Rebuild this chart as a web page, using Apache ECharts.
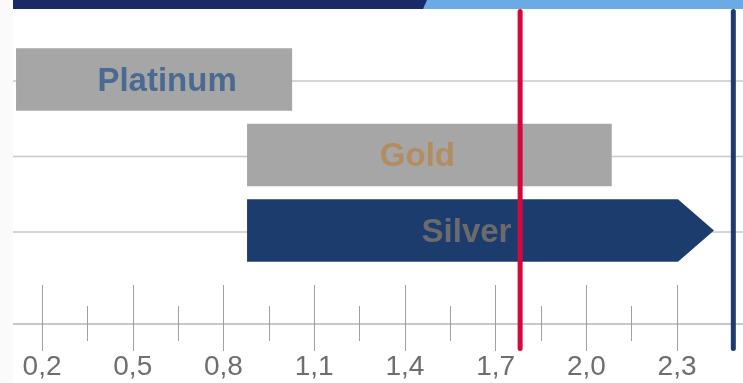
<!DOCTYPE html>
<html>
<head>
<meta charset="utf-8">
<script src="https://cdn.jsdelivr.net/npm/echarts@6/dist/echarts.min.js"></script>
<style>
html,body{margin:0;padding:0;background:#fff;}
#chart{width:743px;height:383px;}
</style>
</head>
<body>
<div id="chart"></div>
<script>
// ---- data ----
var categories = ['Platinum', 'Gold', 'Silver'];
var barStarts = [0.114, 0.878, 0.878];
var barEnds = [1.027, 2.084, 2.422];
var markerValues = [1.781, 2.486];
var tickLabels = [0.2, 0.5, 0.8, 1.1, 1.4, 1.7, 2.0, 2.3];
var minorTicks = [0.35, 0.65, 0.95, 1.25, 1.55, 1.85, 2.15];

// ---- styles ----
var XMIN = 0.104, XMAX = 2.518;
var YMIN = -0.934, YMAX = 3.596;
var BAR_FRAC = 0.828;
var GRID_OFFSET = 0.02;
var arrowLen = [0, 0, 36];
var barColors = ['#a6a6a6', '#a6a6a6', '#1d3c6e'];
var labelColors = ['#4a6a91', '#b38d62', '#6b6b6b'];
var labelDx = [13, -12, 4];
var markerColors = ['#d6083b', '#1d3c6e'];

var chart = echarts.init(document.getElementById('chart'), null, {renderer: 'canvas'});

var barData = categories.map(function (c, i) { return [barStarts[i], barEnds[i], i]; });
var gridData = categories.map(function (c, i) { return [XMIN, i]; });
var markerData = markerValues.map(function (v, i) { return [v, 0, i]; });

function renderBar(params, api) {
  var s = api.value(0), e = api.value(1), i = api.value(2);
  var p0 = api.coord([s, i]);
  var p1 = api.coord([e, i]);
  var h = api.size([0, 1])[1] * BAR_FRAC;
  var top = p0[1] - h / 2, bot = p0[1] + h / 2;
  var ah = arrowLen[i];
  var shape;
  if (ah > 0) {
    shape = {type: 'polygon', shape: {points: [[p0[0], top], [p1[0] - ah, top], [p1[0], p0[1]], [p1[0] - ah, bot], [p0[0], bot]]},
      style: {fill: barColors[i]}};
  } else {
    shape = {type: 'rect', shape: {x: p0[0], y: top, width: p1[0] - p0[0], height: h}, style: {fill: barColors[i]}};
  }
  var cx = (p0[0] + p1[0] - ah) / 2 + labelDx[i];
  return {type: 'group', children: [shape, {
    type: 'text', style: {text: categories[i], x: cx, y: p0[1] + 2, align: 'center', verticalAlign: 'middle',
      fill: labelColors[i], font: 'bold 33px "Liberation Sans", Arial, sans-serif'}
  }]};
}

function renderGridLine(params, api) {
  var y = api.coord([api.value(0), api.value(1) + GRID_OFFSET])[1];
  var cs = params.coordSys;
  return {type: 'line', shape: {x1: cs.x, y1: y, x2: cs.x + cs.width, y2: y},
    style: {stroke: '#c8c8c8', lineWidth: 1.5}};
}

function renderMarker(params, api) {
  var x = api.coord([api.value(0), 0])[0];
  var cs = params.coordSys;
  var idx = api.value(2);
  return {type: 'line', shape: {x1: x, y1: cs.y + 2.5, x2: x, y2: cs.y + cs.height - 2.5},
    style: {stroke: markerColors[idx], lineWidth: 5, lineCap: 'round'}};
}

function fmt(v) { return v.toFixed(1).replace('.', ','); }

var labelFont = {fontFamily: '"Liberation Sans Narrow", "Liberation Sans", sans-serif', fontSize: 28, color: '#6e6e6e'};

var option = {
  animation: false,
  backgroundColor: '#fff',
  graphic: [
    {type: 'rect', shape: {x: 0, y: 0, width: 13, height: 383}, style: {fill: '#fafafa'}, z: 100},
    {type: 'rect', shape: {x: 13, y: 0, width: 730, height: 9}, style: {fill: '#6aabe5'}, z: 100},
    {type: 'polygon', shape: {points: [[13, 0], [427, 0], [423, 9], [13, 9]]}, style: {fill: '#1a2a68'}, z: 101}
  ],
  grid: [
    {left: 13, right: 0, top: 9, bottom: 32},
    {left: 13, right: 0, top: 9, bottom: 59}
  ],
  xAxis: [
    {gridIndex: 0, type: 'value', min: XMIN, max: XMAX, show: false},
    {gridIndex: 1, type: 'value', min: XMIN, max: XMAX, position: 'bottom',
      axisLine: {show: true, lineStyle: {color: '#c8c8c8', width: 2}},
      axisTick: {show: true, inside: false, length: 27, customValues: tickLabels, lineStyle: {color: '#a0a0a0', width: 1}},
      axisLabel: Object.assign({show: true, customValues: tickLabels, margin: 43, verticalAlign: 'middle', formatter: fmt}, labelFont),
      splitLine: {show: false}},
    {gridIndex: 1, type: 'value', min: XMIN, max: XMAX, position: 'bottom',
      axisLine: {show: false},
      axisTick: {show: true, inside: true, length: 39, customValues: tickLabels, lineStyle: {color: '#a0a0a0', width: 1}},
      axisLabel: {show: false}, splitLine: {show: false}},
    {gridIndex: 1, type: 'value', min: XMIN, max: XMAX, position: 'bottom',
      axisLine: {show: false},
      axisTick: {show: true, inside: false, length: 17, customValues: minorTicks, lineStyle: {color: '#a0a0a0', width: 1}},
      axisLabel: {show: false}, splitLine: {show: false}},
    {gridIndex: 1, type: 'value', min: XMIN, max: XMAX, position: 'bottom',
      axisLine: {show: false},
      axisTick: {show: true, inside: true, length: 18, customValues: minorTicks, lineStyle: {color: '#a0a0a0', width: 1}},
      axisLabel: {show: false}, splitLine: {show: false}}
  ],
  yAxis: [
    {gridIndex: 0, type: 'value', inverse: true, min: YMIN, max: YMAX, show: false},
    {gridIndex: 1, type: 'value', min: 0, max: 1, show: false}
  ],
  series: [
    {type: 'custom', xAxisIndex: 0, yAxisIndex: 0, z: 1, renderItem: renderGridLine, data: gridData, silent: true},
    {type: 'custom', xAxisIndex: 0, yAxisIndex: 0, z: 2, renderItem: renderBar, data: barData, silent: true},
    {type: 'custom', xAxisIndex: 0, yAxisIndex: 0, z: 3, renderItem: renderMarker, data: markerData, silent: true}
  ]
};
chart.setOption(option);
</script>
</body>
</html>
